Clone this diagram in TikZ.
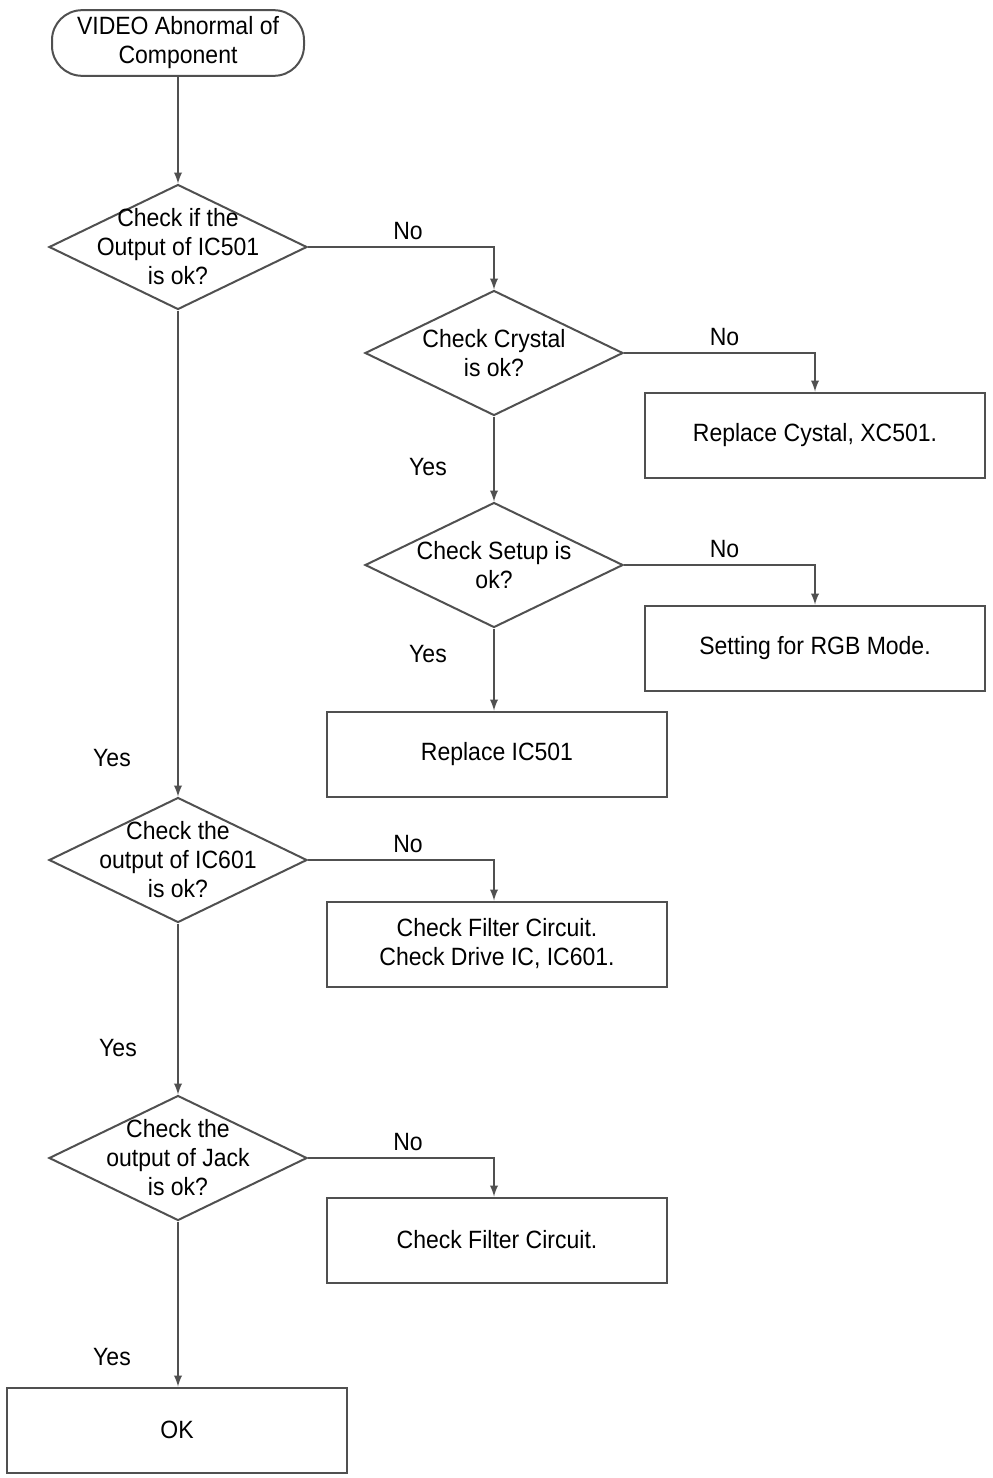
\documentclass[tikz,border=0pt]{standalone}
\usepackage{fontspec}
\setmainfont{Liberation Sans}[FakeStretch=0.92]
\usetikzlibrary{arrows,positioning,shapes.geometric}
\definecolor{linegray}{HTML}{505050}

\tikzset{
  startnode/.style={draw=linegray, line width=1pt, rounded corners=15pt,
    minimum width=126pt, minimum height=31.5pt, align=center},
  decision/.style={draw=linegray, line width=1pt, diamond, minimum width=129pt,
    minimum height=62.5pt, inner sep=-30pt, align=center},
  action/.style={draw=linegray, line width=1pt, minimum width=170pt,
    minimum height=42.5pt, align=center},
  flow/.style={->, >=latex, draw=linegray, line width=0.9pt},
}

\begin{document}
\begin{tikzpicture}[x=0.5pt, y=-0.5pt, font=\fontsize{12.5}{14.5}\selectfont]
  \useasboundingbox (0,0) rectangle (992,1478);
  \node[startnode] (start) at (178,43) {VIDEO Abnormal of\\Component};
  \node[decision] (out501) at (178,247) {Check if the\\Output of IC501\\is ok?};
  \node[decision] (crystal) at (494,353) {Check Crystal\\is ok?};
  \node[action] (repxtal) at (815,435) {Replace Cystal, XC501.};
  \node[decision] (setup) at (494,565) {Check Setup is\\ok?};
  \node[action] (rgb) at (815,648) {Setting for RGB Mode.};
  \node[action] (rep501) at (497,754) {Replace IC501};
  \node[decision] (out601) at (178,860) {Check the\\output of IC601\\is ok?};
  \node[action] (drive) at (497,944) {Check Filter Circuit.\\Check Drive IC, IC601.};
  \node[decision] (jack) at (178,1158) {Check the\\output of Jack\\is ok?};
  \node[action] (filter) at (497,1240) {Check Filter Circuit.};
  \node[action] (ok) at (177,1430) {OK};

  \draw[flow] (start) -- (out501);
  \draw[flow] (out501.east) -| (crystal.north) node[pos=0.25, above, xshift=3.5pt] {No};
  \draw[flow] (crystal.east) -| (repxtal.north) node[pos=0.25, above, xshift=2.5pt] {No};
  \draw[flow] (crystal) -- (setup) node[pos=0.6, xshift=-33pt] {Yes};
  \draw[flow] (setup.east) -| (rgb.north) node[pos=0.25, above, xshift=2.5pt] {No};
  \draw[flow] (setup.south) -- (setup.south |- rep501.north) node[pos=0.31, xshift=-33pt] {Yes};
  \draw[flow] (out501) -- (out601) node[pos=0.92, xshift=-33pt] {Yes};
  \draw[flow] (out601.east) -| (out601.east -| crystal.south) -- (drive.north -| crystal.south)
    node[pos=0, above, xshift=-43pt] {No};
  \draw[flow] (out601) -- (jack) node[pos=0.73, xshift=-30pt] {Yes};
  \draw[flow] (jack.east) -| (jack.east -| crystal.south) -- (filter.north -| crystal.south)
    node[pos=0, above, xshift=-43pt] {No};
  \draw[flow] (jack.south) -- (jack.south |- ok.north) node[pos=0.82, xshift=-33pt] {Yes};
\end{tikzpicture}
\end{document}
